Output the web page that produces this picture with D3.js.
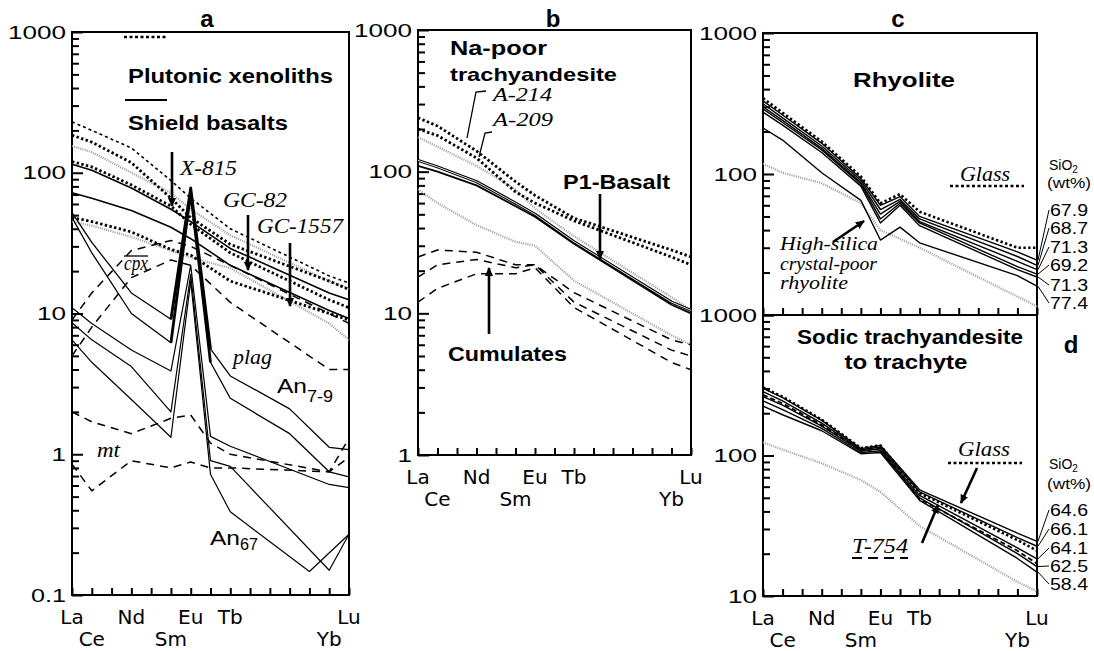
<!DOCTYPE html>
<html><head><meta charset="utf-8">
<script src="https://cdn.jsdelivr.net/npm/d3@7"></script>
<style>body{margin:0;background:#fff}svg{display:block}</style>
</head><body>
<svg id="chart" width="1094" height="651"></svg>
<script>
const _ = null;
// x categories (chondrite-normalized REE order)
const REE = ["La","Ce","Pr","Nd","Pm","Sm","Eu","Gd","Tb","Dy","Ho","Er","Tm","Yb","Lu"];
const labelRow1 = ["La","Nd","Eu","Tb","Lu"];
const labelRow2 = ["Ce","Sm","Yb"];

// y tick values / labels
const ticksA = [0.1,1,10,100,1000], tickLabA = ["0.1","1","10","100","1000"];
const ticksB = [1,10,100,1000], tickLabB = ["1","10","100","1000"];
const ticksC = [10,100,1000], tickLabC = ["","100","1000"];
const ticksD = [10,100,1000], tickLabD = ["10","100","1000"];

// ---- panel a ----
const aXenoThin = [230,200,_,150,_,88,66,_,40,_,_,_,_,18.5,16.5];
const aXenoThick = [
  [185,165,_,118,_,66,48,_,31,_,_,_,_,17,14.8],
  [120,110,_,82,_,58,43,_,27,_,_,_,_,12.5,11],
  [48,45,_,38,_,28.5,26,_,17,_,_,_,_,10,9]
];
const aBasalts = [
  [115,104,_,78,_,55,45,_,29,_,_,_,_,14,12.5],
  [72,66,_,54,_,41,34,_,22,_,_,_,_,10.5,9.2]
];
const aStipple = [
  [155,140,_,100,_,72,55,_,36,_,_,_,_,17,15],
  [45,42,_,35,_,28,25,_,21,_,_,_,_,8.5,6.5]
];
const aCpx = [
  [9,14,_,28,_,33,30,_,22,_,_,_,_,10,8.5],
  [5,8,_,18,_,24,22,_,12,_,_,_,_,4,4]
];
const aMt = [
  [2,1.7,_,1.4,_,1.8,1.9,1.2,1.0,_,_,_,_,0.75,1.3],
  [0.85,0.55,_,0.9,_,0.8,0.88,0.8,0.8,_,_,_,_,0.75,0.95]
];
const aPlagHighEu = [
  [52,32,_,14,_,9.1,78,5.6,3.6,_,_,2.1,_,1.12,1.08],
  [48,27,_,10,_,6.2,72,4.5,2.5,_,_,1.4,_,0.75,0.69]
];
const aPlagLowEu = [
  [11,8.5,_,5.5,_,3.9,22,1.34,1.14,_,_,_,_,0.61,0.58],
  [8.6,6.5,_,4.2,_,2.0,19,0.9,0.82,_,_,_,_,0.15,0.27],
  [6.5,4.5,_,2.45,_,1.32,17,0.72,0.39,_,_,_,0.147,_,0.27]
];

// ---- panel b ----
const bA214 = [240,210,_,140,_,85,68,_,47,_,_,_,_,28,25];
const bA209 = [200,180,_,125,_,72,60,_,45,_,_,_,_,25,22];
const bP1a = [120,108,_,85,_,60,50,_,32,_,_,_,_,12,10.5];
const bP1b = [110,100,_,80,_,57,48,_,31,_,_,_,_,11.5,10];
const bStipple = [
  [175,150,_,110,_,75,55,_,35,_,_,_,_,13,10.5],
  [75,60,_,42,_,32,30,_,17,_,_,_,_,7,6]
];
const bCumulates = [
  [25,28,_,27,_,22,22,_,14,_,_,_,_,6.5,6],
  [18,22,_,24,_,21,22,_,12,_,_,_,_,5.5,5],
  [12,15,_,19,_,19,21,_,11,_,_,_,_,4.5,4]
];

// ---- panel c ----
const cRhyolites = [
  [330,262,_,165,_,93,60,69,50,_,_,_,_,28,24.5],
  [315,250,_,158,_,90,56,66,48,_,_,_,_,26,22.5],
  [300,240,_,152,_,87,52,64,46,_,_,_,_,24,21],
  [290,232,_,148,_,85,48,62,45,_,_,_,_,22,19.5],
  [275,222,_,142,_,82,45,60,43,_,_,_,_,21,18.6],
  [212,174,_,102,_,65,34,42,32.5,_,_,_,_,19,16]
];
const cSiO2 = ["67.9","68.7","71.3","69.2","71.3","77.4"];
const cGlass = [345,272,_,170,_,96,62,72,54,_,_,_,_,30,30];
const cHighSilica = [118,102,_,86,_,62,40,_,30,_,_,_,_,13.5,11.5];

// ---- panel d ----
const dTrachy = [
  [300,258,_,178,_,112,118,_,57,_,_,_,_,28,24.5],
  [285,245,_,170,_,110,115,_,55,_,_,_,_,26,22.6],
  [262,228,_,162,_,108,112,_,52,_,_,_,_,22,18.4],
  [245,212,_,156,_,105,108,_,50,_,_,_,_,20,16.2],
  [225,195,_,150,_,103,105,_,48,_,_,_,_,18.5,14.8]
];
const dSiO2 = ["64.6","66.1","64.1","62.5","58.4"];
const dGlass = [305,262,_,180,_,113,118,_,54,_,_,_,_,25,21];
const dT754 = [270,235,_,165,_,108,112,_,49,_,_,_,_,21,17];
const dGrey = [124,110,_,88,_,67,55,_,31.5,_,_,_,_,12.6,10.8];

// ================= drawing =================
const svg = d3.select("#chart");
const defs = svg.append("defs");
defs.append("marker").attr("id","ah").attr("viewBox","0 0 10 10")
  .attr("refX",9).attr("refY",5).attr("markerWidth",9).attr("markerHeight",9)
  .attr("markerUnits","userSpaceOnUse").attr("orient","auto")
  .append("path").attr("d","M0,0.5 L10,5 L0,9.5 z").attr("fill","#000");

const SANS = "'Liberation Sans', Arial, Helvetica, sans-serif";
const SERIF = "'Liberation Serif', 'Times New Roman', serif";
const ROUND = "'DejaVu Sans', sans-serif";

function txt(g, x, y, s, o = {}) {
  const t = g.append("text").attr("x", x).attr("y", y).text(s)
    .attr("font-family", o.family || SANS).attr("font-size", o.size || 19)
    .attr("font-weight", o.weight || "normal").attr("font-style", o.style || "normal")
    .attr("text-anchor", o.anchor || "start").attr("fill", "#000");
  if (o.len) t.attr("textLength", o.len).attr("lengthAdjust", "spacingAndGlyphs");
  return t;
}

function makePanel(o) {
  const g = svg.append("g");
  const x = d3.scaleLinear().domain([0, REE.length - 1]).range([o.x0, o.x1]);
  const y = d3.scaleLog().domain(o.dom).range([o.yb, o.yt]);
  const minors = [];
  for (let e = Math.round(Math.log10(o.dom[0])); e < Math.round(Math.log10(o.dom[1])); e++)
    for (let m = 2; m <= 9; m++) minors.push(m * Math.pow(10, e));
  g.append("g").attr("transform", `translate(${o.x0},0)`)
    .call(d3.axisLeft(y).tickValues(minors).tickSize(-7).tickFormat(""))
    .call(s => { s.select(".domain").remove(); s.selectAll("line").attr("stroke-width", 2); });
  g.append("g").attr("transform", `translate(${o.x0},0)`)
    .call(d3.axisLeft(y).tickValues(o.ticks).tickSize(-11).tickPadding(6)
      .tickFormat((d, i) => o.tickLabels[i]))
    .call(s => {
      s.select(".domain").remove();
      s.selectAll("line").attr("stroke-width", 2);
      s.selectAll("text").attr("font-family", SANS).attr("font-size", 19).attr("fill", "#000")
        .each(function (d, i) {
          const lab = o.tickLabels[i];
          if (!lab) return;
          const w = lab.split("").reduce((a, c) => a + (c === "." ? 6 : 14.5), 0);
          d3.select(this).attr("textLength", w).attr("lengthAdjust", "spacingAndGlyphs");
        });
    });
  g.append("g").attr("transform", `translate(0,${o.yb})`)
    .call(d3.axisBottom(x).tickValues(d3.range(REE.length)).tickSize(-7).tickFormat(""))
    .call(s => { s.select(".domain").remove(); s.selectAll("line").attr("stroke-width", 2); });
  g.append("rect").attr("x", o.x0).attr("y", o.yt).attr("width", o.x1 - o.x0)
    .attr("height", o.yb - o.yt).attr("fill", "none").attr("stroke", "#000").attr("stroke-width", 2);
  if (o.xLabels) {
    labelRow1.forEach(n => txt(g, x(REE.indexOf(n)), o.yb + 29, n, { family: ROUND, size: 20, anchor: "middle" }));
    labelRow2.forEach(n => txt(g, x(REE.indexOf(n)), o.yb + 51, n, { family: ROUND, size: 20, anchor: "middle" }));
  }
  const lines = g.append("g");
  return { g, x, y, lines };
}

function series(P, vals, st) {
  let pts = vals.map((v, i) => [i, v]).filter(d => d[1] != null);
  if (st.range) pts = pts.filter(d => d[0] >= st.range[0] && d[0] <= st.range[1]);
  const line = d3.line().x(d => P.x(d[0])).y(d => P.y(d[1]));
  const p = P.lines.append("path").attr("d", line(pts)).attr("fill", "none")
    .attr("stroke", st.color || "#000").attr("stroke-width", st.w || 1.4)
    .attr("stroke-linejoin", "round");
  if (st.dash) p.attr("stroke-dasharray", st.dash);
  if (st.inner) {
    P.lines.append("path").attr("d", line(pts)).attr("fill", "none")
      .attr("stroke", "#fff").attr("stroke-width", st.inner).attr("stroke-linejoin", "round");
  }
  return pts;
}

function arrow(g, x1, y1, x2, y2, w = 2.6) {
  g.append("line").attr("x1", x1).attr("y1", y1).attr("x2", x2).attr("y2", y2)
    .attr("stroke", "#000").attr("stroke-width", w).attr("marker-end", "url(#ah)");
}
function seg(g, pts, st = {}) {
  const p = g.append("path").attr("d", d3.line()(pts)).attr("fill", "none")
    .attr("stroke", "#000").attr("stroke-width", st.w || 1.3);
  if (st.dash) p.attr("stroke-dasharray", st.dash);
  return p;
}

const STIPPLE = { color: "#9a9a9a", w: 2.2, dash: "1,1.2" };
const DASHED = { w: 1.5, dash: "8,6" };
const THICKDOT = { w: 2.8, dash: "2.4,2.4" };
const THINDOT = { w: 1.6, dash: "3,3" };
const ITAL = { family: SERIF, style: "italic" };

// ---------- Panel a ----------
const A = makePanel({ x0: 72, x1: 349, yt: 32, yb: 595, dom: [0.1, 1000], ticks: ticksA, tickLabels: tickLabA, xLabels: true });
aStipple.forEach(s => series(A, s, STIPPLE));
aCpx.forEach(s => series(A, s, DASHED));
aMt.forEach(s => series(A, s, DASHED));
aPlagLowEu.forEach(s => series(A, s, { w: 1.2 }));
aPlagHighEu.forEach(s => { series(A, s, { w: 1.3 }); series(A, s, { w: 2.8, range: [5, 7] }); });
aBasalts.forEach(s => series(A, s, { w: 1.6 }));
series(A, aXenoThin, THINDOT);
aXenoThick.forEach(s => series(A, s, THICKDOT));

txt(A.g, 207, 27, "a", { weight: "bold", size: 24, anchor: "middle" });
seg(A.g, [[124, 37], [168, 37]], { w: 2.4, dash: "3,2.5" });
txt(A.g, 128, 83, "Plutonic xenoliths", { weight: "bold", size: 20, len: 205 });
seg(A.g, [[125, 100], [167, 100]], { w: 2 });
txt(A.g, 128, 130, "Shield basalts", { weight: "bold", size: 20, len: 160 });
txt(A.g, 180, 175, "X-815", { ...ITAL, size: 21, len: 57 });
arrow(A.g, 172, 152, 172, 206);
txt(A.g, 223, 207, "GC-82", { ...ITAL, size: 21, len: 64 });
arrow(A.g, 248, 215, 248, 270);
txt(A.g, 257, 233, "GC-1557", { ...ITAL, size: 21, len: 86 });
arrow(A.g, 290, 243, 290, 306);
txt(A.g, 124, 270, "cpx", { ...ITAL, size: 21, len: 24 });
seg(A.g, [[124, 256], [148, 256]], { w: 1.3 });
txt(A.g, 233, 364, "plag", { ...ITAL, size: 22, len: 39 });
txt(A.g, 277, 393, "An", { size: 21, len: 30 });
txt(A.g, 307, 402, "7-9", { size: 16, len: 26 });
txt(A.g, 210, 545, "An", { size: 21, len: 30 });
txt(A.g, 240, 550, "67", { size: 16, len: 18 });
txt(A.g, 97, 457, "mt", { ...ITAL, size: 20, len: 23 });

// ---------- Panel b ----------
const B = makePanel({ x0: 418, x1: 691, yt: 30, yb: 455, dom: [1, 1000], ticks: ticksB, tickLabels: tickLabB, xLabels: true });
bStipple.forEach(s => series(B, s, STIPPLE));
bCumulates.forEach(s => series(B, s, DASHED));
series(B, bP1b, { w: 1.8 });
series(B, bP1a, { w: 3, inner: 0.9 });
series(B, bA214, THICKDOT);
series(B, bA209, THICKDOT);

txt(B.g, 553, 27, "b", { weight: "bold", size: 24, anchor: "middle" });
txt(B.g, 450, 55, "Na-poor", { weight: "bold", size: 20, len: 97 });
txt(B.g, 450, 81, "trachyandesite", { weight: "bold", size: 19, len: 167 });
txt(B.g, 493, 101, "A-214", { ...ITAL, size: 18, len: 59 });
txt(B.g, 493, 126, "A-209", { ...ITAL, size: 18, len: 60 });
seg(B.g, [[486, 91], [476, 92], [467, 138]], { w: 1.3 });
seg(B.g, [[492, 132], [485, 133], [479, 157]], { w: 1.3 });
txt(B.g, 563, 189, "P1-Basalt", { weight: "bold", size: 20, len: 107 });
arrow(B.g, 600, 194, 600, 259);
txt(B.g, 448, 361, "Cumulates", { weight: "bold", size: 20, len: 119 });
arrow(B.g, 489, 334, 489, 268);

// ---------- Panel c ----------
const C = makePanel({ x0: 763, x1: 1037, yt: 33, yb: 315, dom: [10, 1000], ticks: ticksC, tickLabels: tickLabC, xLabels: false });
series(C, cHighSilica, STIPPLE);
cRhyolites.forEach(s => series(C, s, { w: 1.4 }));
series(C, cGlass, { w: 2.6, dash: "2.4,2.4" });

txt(C.g, 898, 27, "c", { weight: "bold", size: 24, anchor: "middle" });
txt(C.g, 853, 87, "Rhyolite", { weight: "bold", size: 20, len: 102 });
txt(C.g, 960, 181, "Glass", { ...ITAL, size: 21, len: 50 });
seg(C.g, [[950, 186], [1024, 186]], { w: 2.4, dash: "3,2.5" });
const sio2c = txt(C.g, 1049, 170, "SiO", { size: 14 });
sio2c.append("tspan").attr("dy", 3).attr("font-size", 10).text("2");
txt(C.g, 1047, 188, "(wt%)", { size: 14, len: 44 });
cSiO2.forEach((s, i) => {
  const ly = [210, 228, 247, 265, 285, 303][i];
  txt(C.g, 1050, ly + 6, s, { size: 16, len: 38 });
  seg(C.g, [[1049, ly], [1038, C.y(cRhyolites[i][14])]], { w: 1 });
});
txt(C.g, 780, 250, "High-silica", { ...ITAL, size: 18, len: 98 });
txt(C.g, 780, 270, "crystal-poor", { ...ITAL, size: 18, len: 97 });
txt(C.g, 780, 289, "rhyolite", { ...ITAL, size: 18, len: 68 });
arrow(C.g, 833, 242, 864, 221);

// ---------- Panel d ----------
const D = makePanel({ x0: 763, x1: 1037, yt: 315, yb: 596, dom: [10, 1000], ticks: ticksD, tickLabels: tickLabD, xLabels: true });
series(D, dGrey, STIPPLE);
dTrachy.forEach(s => series(D, s, { w: 1.4 }));
series(D, dT754, { w: 1.8, dash: "5,3" });
series(D, dGlass, { w: 2.6, dash: "2.4,2.4" });

txt(D.g, 910, 344, "Sodic trachyandesite", { weight: "bold", size: 20, anchor: "middle", len: 226 });
txt(D.g, 906, 369, "to trachyte", { weight: "bold", size: 20, anchor: "middle", len: 123 });
txt(D.g, 1071, 353, "d", { weight: "bold", size: 24, anchor: "middle" });
txt(D.g, 958, 456, "Glass", { ...ITAL, size: 21, len: 52 });
seg(D.g, [[948, 463], [1022, 463]], { w: 2.4, dash: "3,2.5" });
arrow(D.g, 977, 468, 961, 503);
txt(D.g, 852, 553, "T-754", { ...ITAL, size: 21, len: 56 });
seg(D.g, [[852, 558], [908, 558]], { w: 1.8, dash: "10,6" });
arrow(D.g, 922, 543, 938, 505);
const sio2d = txt(D.g, 1049, 469, "SiO", { size: 14 });
sio2d.append("tspan").attr("dy", 3).attr("font-size", 10).text("2");
txt(D.g, 1047, 489, "(wt%)", { size: 14, len: 44 });
dSiO2.forEach((s, i) => {
  const ly = [510, 529, 548, 566, 584][i];
  txt(D.g, 1050, ly + 6, s, { size: 16, len: 38 });
  seg(D.g, [[1049, ly], [1038, D.y(dTrachy[i][14])]], { w: 1 });
});
</script>
</body></html>
